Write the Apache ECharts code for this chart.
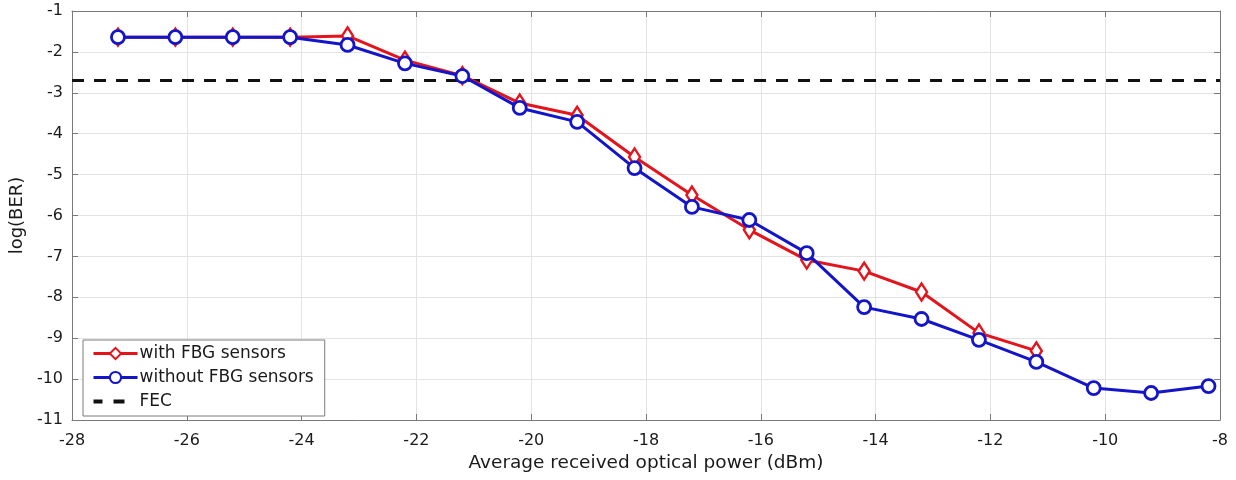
<!DOCTYPE html>
<html><head><meta charset="utf-8">
<script src="https://cdn.jsdelivr.net/npm/echarts@6/dist/echarts.min.js"></script>
<style>html,body{margin:0;padding:0;background:#fff}#c{width:1236px;height:480px}</style>
</head><body><div id="c"></div>
<script>
const xWith = [-27.2,-26.2,-25.2,-24.2,-23.2,-22.2,-21.2,-20.2,-19.2,-18.2,-17.2,-16.2,-15.2,-14.2,-13.2,-12.2,-11.2];
const yWith = [-1.64,-1.64,-1.64,-1.64,-1.61,-2.2,-2.58,-3.25,-3.55,-4.57,-5.5,-6.35,-7.09,-7.36,-7.87,-8.87,-9.31];
const xWithout = [-27.2,-26.2,-25.2,-24.2,-23.2,-22.2,-21.2,-20.2,-19.2,-18.2,-17.2,-16.2,-15.2,-14.2,-13.2,-12.2,-11.2,-10.2,-9.2,-8.2];
const yWithout = [-1.64,-1.64,-1.64,-1.64,-1.83,-2.28,-2.59,-3.37,-3.71,-4.84,-5.79,-6.11,-6.92,-8.24,-8.53,-9.04,-9.58,-10.22,-10.34,-10.17];
const fecLevel = -2.7;
const xRange = [-28, -8];
const yRange = [-11, -1];
const seriesNames = ['with FBG sensors', 'without FBG sensors', 'FEC'];
const xTitle = 'Average received optical power (dBm)';
const yTitle = 'log(BER)';

const font = 'DejaVu Sans, Liberation Sans, sans-serif';
const txt = '#1a1a1a';
const axisCol = '#7a7a7a';
const red = '#e3141c';
const blue = '#1414c8';
const chart = echarts.init(document.getElementById('c'));
const zip = (a, b) => a.map((v, i) => [v, b[i]]);
const baseX = {type:'value', min:xRange[0], max:xRange[1], interval:2,
  axisLine:{show:true,lineStyle:{color:axisCol,width:1}},
  axisTick:{show:true,inside:true,length:6,lineStyle:{color:axisCol}},
  splitLine:{show:false}};
const baseY = {type:'value', min:yRange[0], max:yRange[1], interval:1,
  axisLine:{show:true,lineStyle:{color:axisCol,width:1}},
  axisTick:{show:true,inside:true,length:6,lineStyle:{color:axisCol}},
  splitLine:{show:false}};
const fecIcon = 'path://M0,0L0.01,0Z M0,14L0.01,14Z M44,0L43.99,0Z M0,5h9v4h-9z M20,5h11v4h-11z';
chart.setOption({
  animation:false,
  backgroundColor:'#fff',
  grid:{left:70,right:16,top:11,bottom:60,containLabel:false},
  legend:{
    orient:'vertical', left:83, top:340,
    data:[{name:seriesNames[0]},{name:seriesNames[1]},{name:seriesNames[2], icon:fecIcon, itemStyle:{color:'#111',borderWidth:0}}],
    backgroundColor:'#fff', borderColor:'#7a7a7a', borderWidth:1, borderRadius:0,
    padding:[5,11,6,9], itemGap:7, itemWidth:44, itemHeight:14,
    lineStyle:{width:3},
    textStyle:{fontFamily:font,fontSize:17,color:txt,padding:[0,0,0,-3]}
  },
  xAxis:[
    Object.assign({}, baseX, {position:'bottom', name:xTitle, nameLocation:'middle', nameGap:27,
      nameTextStyle:{fontFamily:font,fontSize:18.5,color:txt},
      axisLabel:{fontFamily:font,fontSize:16,color:txt,margin:13},
      splitLine:{show:true,lineStyle:{color:'#e3e3e3',width:1}}}),
    Object.assign({}, baseX, {position:'top', axisLabel:{show:false}})
  ],
  yAxis:[
    Object.assign({}, baseY, {position:'left', name:yTitle, nameLocation:'middle', nameGap:36,
      nameTextStyle:{fontFamily:font,fontSize:18,color:txt},
      axisLabel:{fontFamily:font,fontSize:16,color:txt,margin:9},
      splitLine:{show:true,lineStyle:{color:'#e3e3e3',width:1}}}),
    Object.assign({}, baseY, {position:'right', axisLabel:{show:false}})
  ],
  series:[
    {name:seriesNames[2], type:'line', data:[[xRange[0],fecLevel],[xRange[1],fecLevel]],
      symbol:'none', lineStyle:{color:'#111',width:3,type:[12,10]}, itemStyle:{color:'#111'}, z:1},
    {name:seriesNames[0], type:'line', data:zip(xWith,yWith),
      symbol:'diamond', symbolSize:[11,17], showAllSymbol:true,
      lineStyle:{color:red,width:3}, itemStyle:{color:'#fff',borderColor:red,borderWidth:2.5}, z:3},
    {name:seriesNames[1], type:'line', data:zip(xWithout,yWithout),
      symbol:'circle', symbolSize:13, showAllSymbol:true,
      lineStyle:{color:blue,width:3}, itemStyle:{color:'#fff',borderColor:blue,borderWidth:2.8}, z:4}
  ]
});
</script></body></html>
